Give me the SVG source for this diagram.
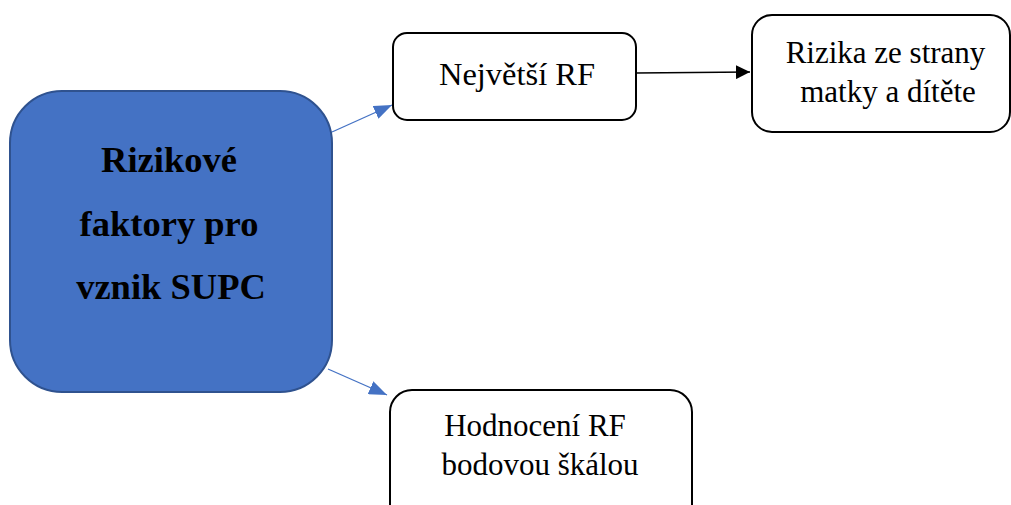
<svg xmlns="http://www.w3.org/2000/svg" width="1011" height="505" viewBox="0 0 1011 505">
<style>
.box{fill:#fff;stroke:#000;stroke-width:2}
.t{font-family:"Liberation Serif",serif;font-size:31px;fill:#000;text-anchor:middle}
.tb{font-family:"Liberation Serif",serif;font-size:36.5px;font-weight:bold;fill:#000;text-anchor:middle}
.blue{stroke:#4472C4;stroke-width:1.3;fill:none}
.blk{stroke:#000;stroke-width:1.3;fill:none}
</style>
<defs>
<marker id="ab" viewBox="0 0 18 14" refX="18" refY="7" markerWidth="18" markerHeight="14" markerUnits="userSpaceOnUse" orient="auto"><path d="M0,0L18,7L0,14z" fill="#4472C4"/></marker>
<marker id="ak" viewBox="0 0 14 14" refX="14" refY="7" markerWidth="14" markerHeight="14" markerUnits="userSpaceOnUse" orient="auto"><path d="M0,0L14,7L0,14z" fill="#000"/></marker>
</defs>
<rect width="1011" height="505" fill="#fff"/>
<g id="connectors">
<line class="blue" x1="332" y1="132" x2="392" y2="105" marker-end="url(#ab)"/>
<line class="blue" x1="328" y1="369" x2="387" y2="395" marker-end="url(#ab)"/>
<line class="blk" x1="636" y1="73" x2="750" y2="72" marker-end="url(#ak)"/>
</g>
<g id="main">
<rect x="10" y="91" width="322" height="301" rx="52" fill="#4472C4" stroke="#2F528F" stroke-width="2"/>
<text class="tb" x="169" y="172">Rizikové</text>
<text class="tb" x="169" y="235.5">faktory pro</text>
<text class="tb" x="171" y="299">vznik SUPC</text>
</g>
<g id="nejvetsi">
<rect class="box" x="393" y="33" width="243" height="87" rx="14"/>
<text class="t" x="517" y="85" style="font-size:32.5px">Největší RF</text>
</g>
<g id="rizika">
<rect class="box" x="752" y="15" width="258" height="117" rx="20"/>
<text class="t" x="885.5" y="63">Rizika ze strany</text>
<text class="t" x="888" y="102">matky a dítěte</text>
</g>
<g id="hodnoceni">
<rect class="box" x="390" y="390" width="302" height="140" rx="22"/>
<text class="t" x="535" y="436">Hodnocení RF</text>
<text class="t" x="540" y="475">bodovou škálou</text>
</g>
</svg>
